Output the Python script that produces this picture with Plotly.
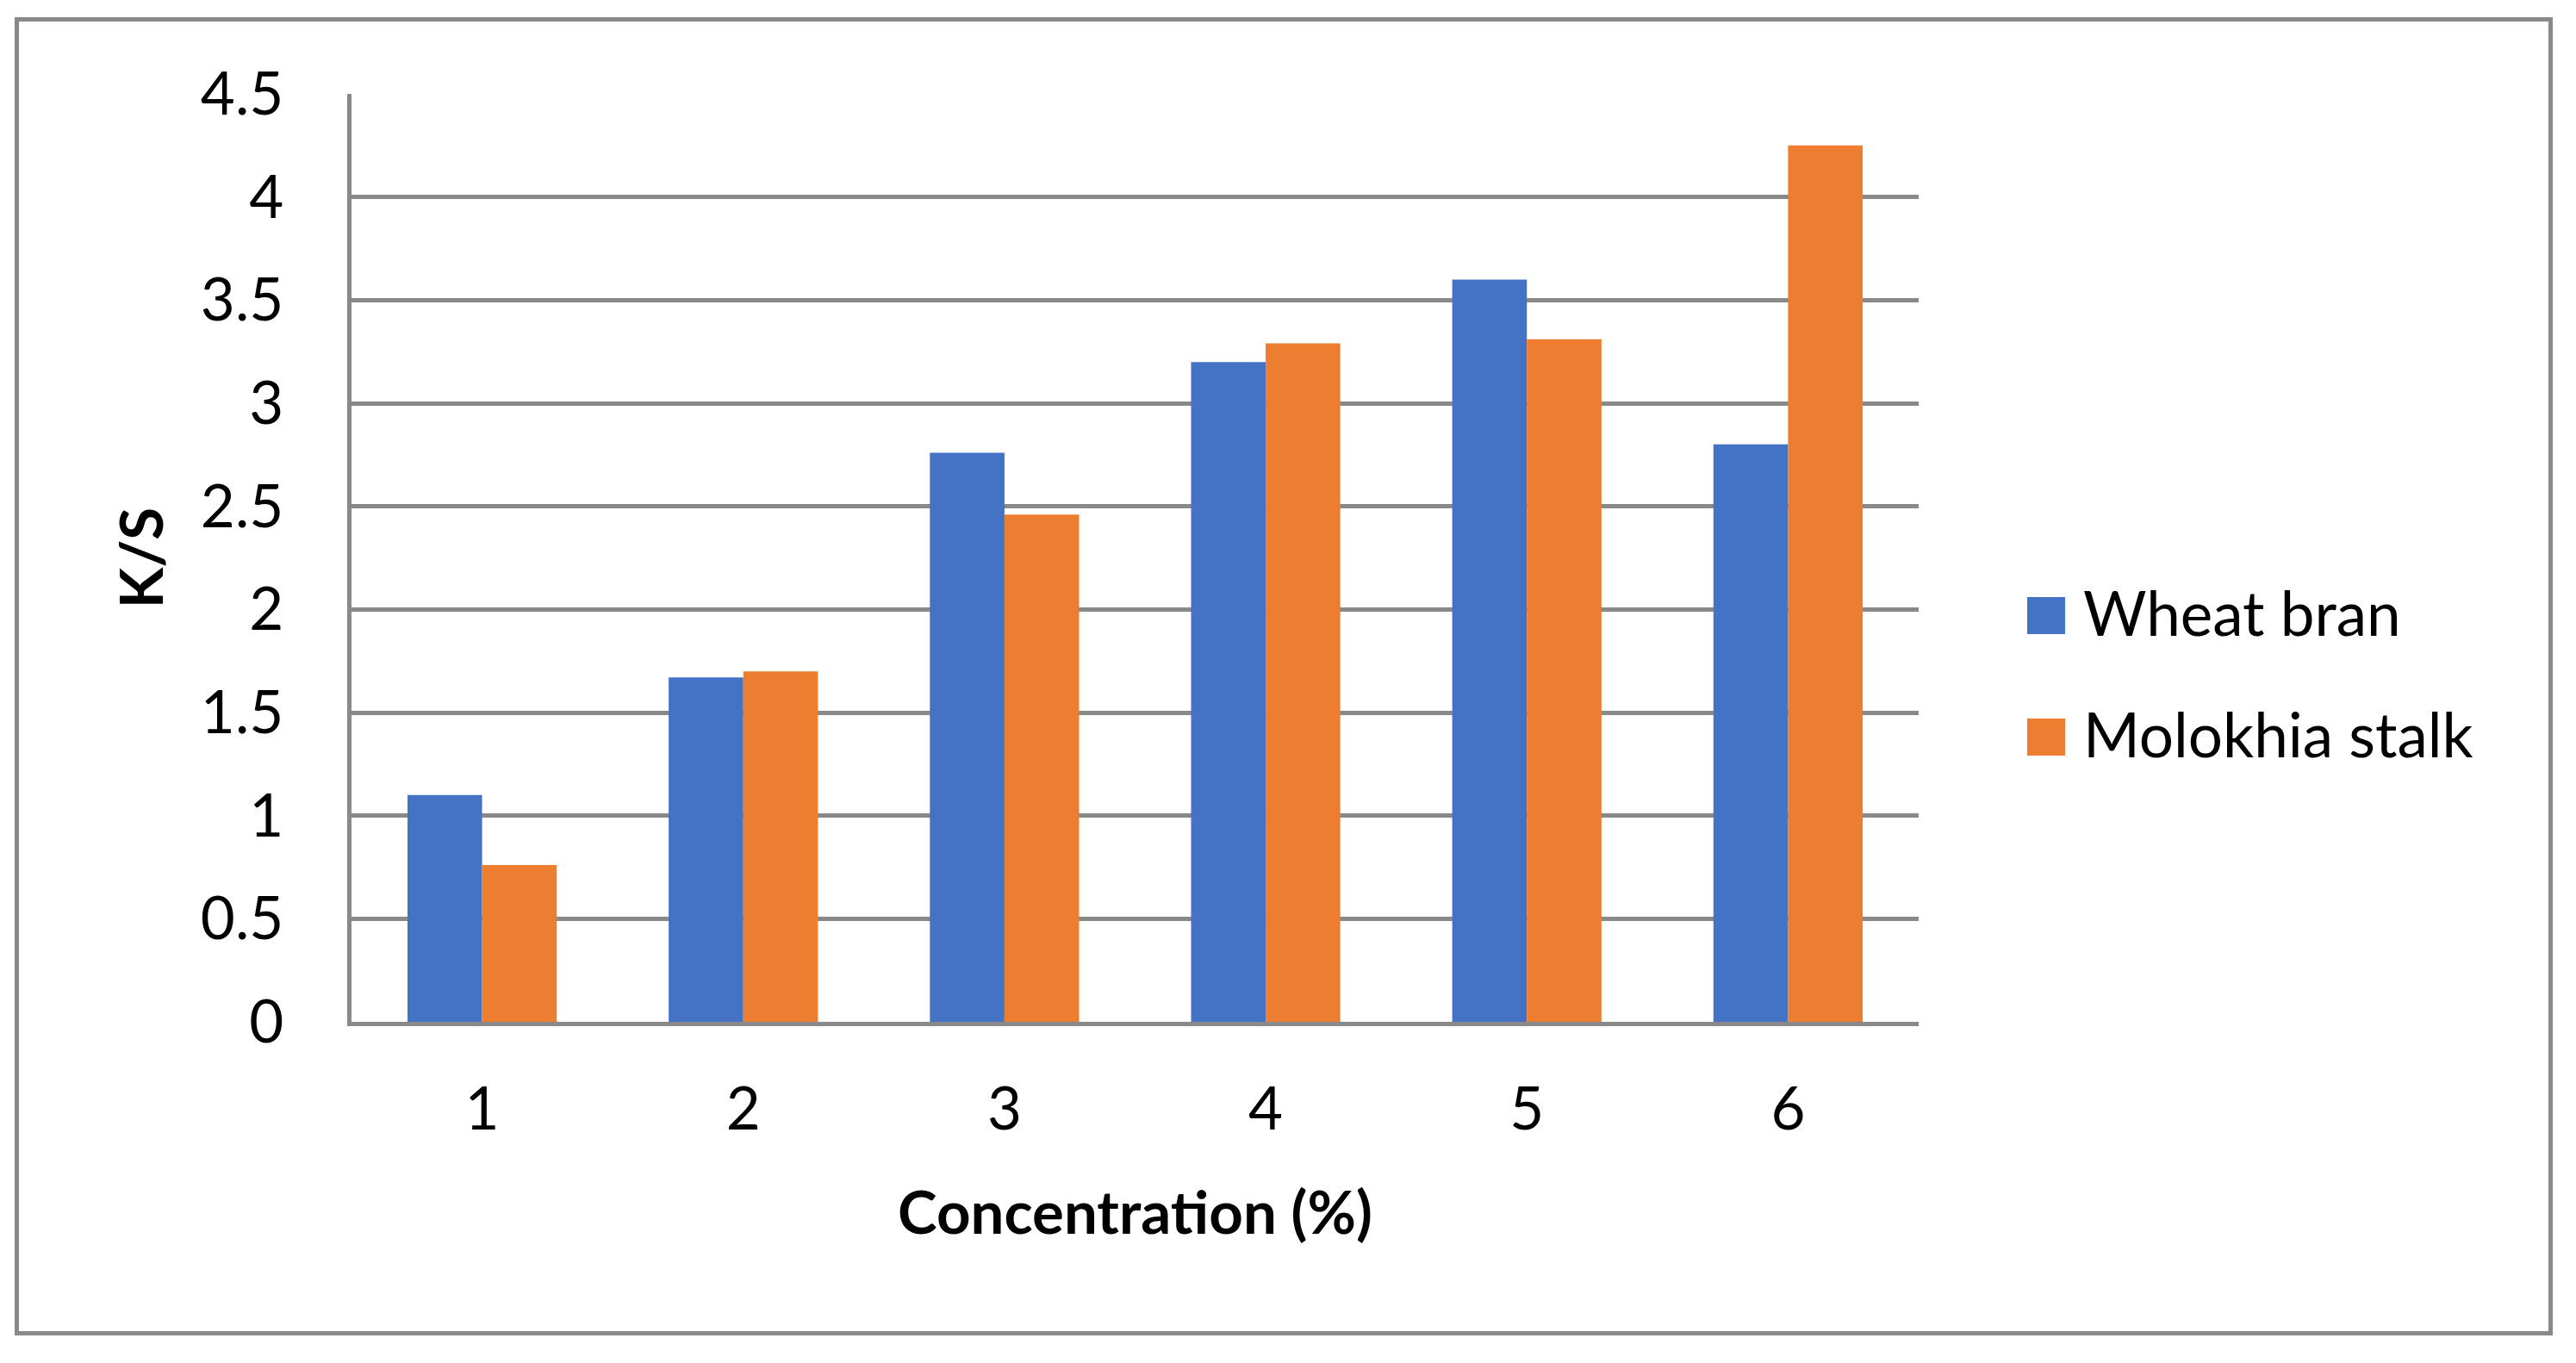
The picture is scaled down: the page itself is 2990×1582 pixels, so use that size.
import plotly.graph_objects as go

# ---- data ----
categories = ["1", "2", "3", "4", "5", "6"]
wheat_bran = [1.10, 1.67, 2.76, 3.20, 3.60, 2.80]
molokhia_stalk = [0.76, 1.70, 2.46, 3.29, 3.31, 4.25]
series_names = ["Wheat bran", "Molokhia stalk"]
y_tick_vals = [0, 0.5, 1, 1.5, 2, 2.5, 3, 3.5, 4, 4.5]
y_tick_text = ["0", "0.5", "1", "1.5", "2", "2.5", "3", "3.5", "4", "4.5"]
x_title = "Concentration (%)"
y_title = "K/S"

# ---- styling ----
W, H = 2990, 1582
PL, PR, PT, PB = 408, 2227, 109, 1186   # plot area in pixels
BLUE = "#4472C4"
ORANGE = "#ED7D31"
GRID = "#898989"
FONT = "Lato"
FS = 69


def px_x(x):
    return (x - PL) / (PR - PL)


def px_y(y):
    return (PB - y) / (PB - PT)


fig = go.Figure()
fig.add_trace(go.Bar(x=categories, y=wheat_bran, name=series_names[0],
                     marker=dict(color=BLUE, line=dict(width=0))))
fig.add_trace(go.Bar(x=categories, y=molokhia_stalk, name=series_names[1],
                     marker=dict(color=ORANGE, line=dict(width=0))))

shapes = [
    # outer chart border
    dict(type="rect", xref="paper", yref="paper",
         x0=px_x(19.5), x1=px_x(2960.5), y0=px_y(1547.5), y1=px_y(22.5),
         line=dict(color=GRID, width=5), fillcolor="rgba(0,0,0,0)", layer="below"),
]
annotations = []
legend_rows = [(693, 736), (834, 877)]
for (ya, yb), name, col in zip(legend_rows, series_names, [BLUE, ORANGE]):
    shapes.append(dict(type="rect", xref="paper", yref="paper",
                       x0=px_x(2353), x1=px_x(2397), y0=px_y(yb), y1=px_y(ya),
                       line=dict(width=0), fillcolor=col))
    annotations.append(dict(xref="paper", yref="paper", x=px_x(2416), y=px_y((ya + yb) / 2 - 4),
                            xanchor="left", yanchor="middle", showarrow=False,
                            text=name, font=dict(family=FONT, size=71, color="black")))

fig.update_layout(
    width=W, height=H,
    margin=dict(l=PL, r=W - PR, t=PT, b=H - PB, pad=0),
    paper_bgcolor="white", plot_bgcolor="white",
    barmode="group", bargap=0.4286, bargroupgap=0,
    showlegend=False,
    font=dict(family=FONT, size=FS, color="black"),
    shapes=shapes, annotations=annotations,
)
fig.update_xaxes(
    type="category", showgrid=False, showline=True, linecolor=GRID, linewidth=5,
    ticks="", ticklabelstandoff=37,
    tickfont=dict(family=FONT, size=FS, color="black"),
    title=dict(text=f"<b>{x_title}</b>", standoff=60,
               font=dict(family=FONT, size=FS, color="black")),
)
fig.update_yaxes(
    range=[0, 4.5], tickvals=y_tick_vals, ticktext=y_tick_text,
    showgrid=True, gridcolor=GRID, gridwidth=5, zeroline=False,
    showline=True, linecolor=GRID, linewidth=5,
    ticks="", ticklabelstandoff=60,
    tickfont=dict(family=FONT, size=FS, color="black"),
    title=dict(text=f"<b>{y_title}</b>", standoff=22,
               font=dict(family=FONT, size=FS, color="black")),
)

fig.write_html("out.html", config={"displayModeBar": False},
               post_script="document.body.style.margin='0';")
